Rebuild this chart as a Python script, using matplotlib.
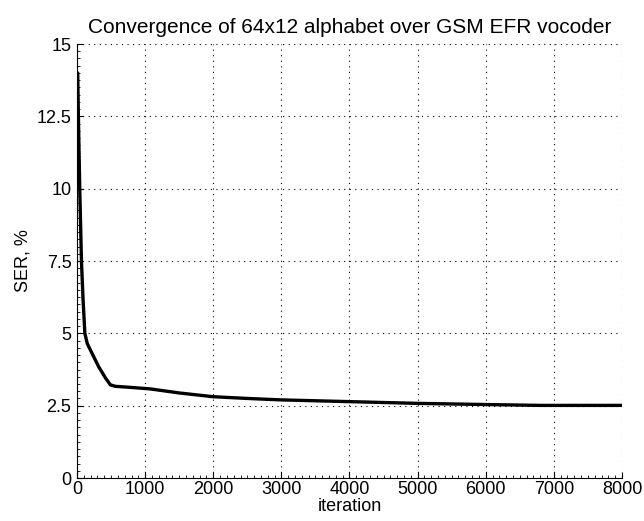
import matplotlib
matplotlib.use("Agg")
import matplotlib.pyplot as plt
from matplotlib.ticker import MultipleLocator
import numpy as np

# convergence curve
iteration = [10, 20, 40, 65, 88, 115, 150, 195, 317, 420, 490, 560, 800,
             1075, 1500, 2000, 2500, 3000, 4000, 5000, 6000, 6800, 8000]
ser = [14.0, 12.5, 10.0, 7.5, 6.2, 5.0, 4.65, 4.43, 3.85, 3.45, 3.22, 3.17,
       3.13, 3.08, 2.94, 2.81, 2.75, 2.70, 2.64, 2.58, 2.54, 2.51, 2.51]

xticks = [0, 1000, 2000, 3000, 4000, 5000, 6000, 7000, 8000]
yticks = [0, 2.5, 5, 7.5, 10, 12.5, 15]
ylabels = ["0", "2.5", "5", "7.5", "10", "12.5", "15"]

plt.rcParams['font.family'] = ['Liberation Sans', 'DejaVu Sans']

fig = plt.figure(figsize=(6.44, 5.21), dpi=100)
ax = fig.add_axes([0.1196, 0.0825, 0.8462, 0.833])

ax.plot(iteration, ser, color='black', linewidth=2.4, solid_capstyle='round',
        solid_joinstyle='round')

ax.set_xlim(0, 8000)
ax.set_ylim(0, 15)
ax.set_xticks(xticks)
ax.set_yticks(yticks)
ax.set_yticklabels(ylabels)
ax.xaxis.set_minor_locator(MultipleLocator(100))
ax.yaxis.set_minor_locator(MultipleLocator(0.25))
ax.tick_params(which='major', direction='in', labelsize=13, length=4, width=0.8)
ax.tick_params(which='minor', direction='in', length=2, width=0.6)
ax.tick_params(axis='x', which='major', pad=2)
ax.tick_params(axis='y', which='major', pad=4)

ax.grid(True, which='major', linestyle=(0, (1, 4)), color='black', linewidth=0.8)
ax.spines['top'].set_visible(False)
ax.spines['right'].set_visible(False)

ax.set_xlabel("iteration", fontsize=13, labelpad=0)
ax.set_ylabel("SER, %", fontsize=13, labelpad=4)
ax.set_title("Convergence of 64x12 alphabet over GSM EFR vocoder", fontsize=15, pad=8)

fig.savefig("out.png", dpi=100)
